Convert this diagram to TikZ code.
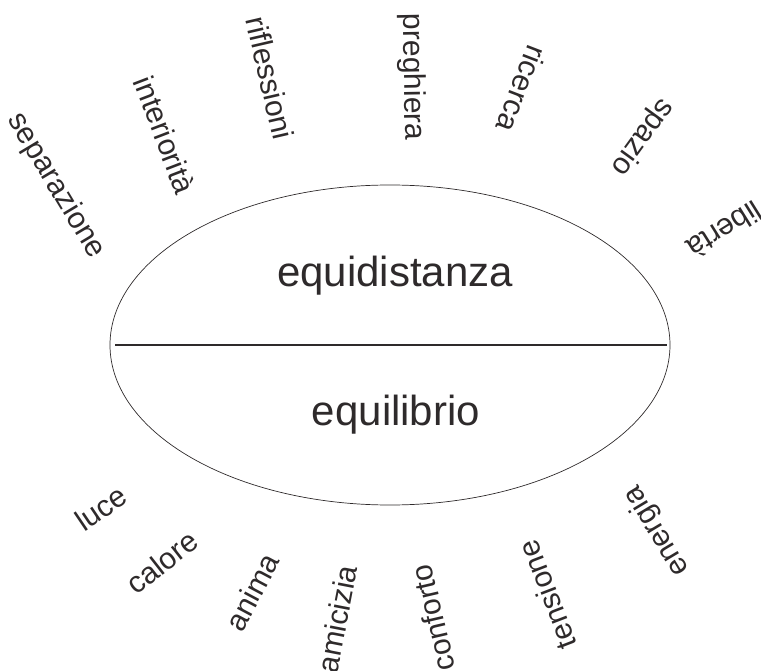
\documentclass[tikz,border=0pt]{standalone}
\usepackage{fontspec}
\setmainfont{Liberation Sans}
\newcommand*{\wordfont}{\fontsize{30pt}{30pt}\selectfont}
\newcommand*{\bigwordfont}{\fontsize{42pt}{42pt}\selectfont}
\definecolor{ink}{cmyk}{0.00,0.00,0.00,0.95}
\usepackage{tikz}
\tikzstyle{base}=[x=1pt, y=-1pt, inner sep=0pt, outer sep=0pt]
\tikzstyle{word}=[ink, font=\wordfont]
\tikzstyle{bigword}=[ink, font=\bigwordfont, anchor=base]

\begin{document}
\begin{tikzpicture}[base]
    \path [use as bounding box] (0,0) rectangle (761,671);
        \draw [ink, line width=0.7pt] (390,345) ellipse [x radius=280, y radius=160];
        \draw [ink, line width=1.1pt] (115,345) -- (667,345);
        \node [bigword] (equidistanza) at (395,287) {equidistanza};
        \node [bigword] (equilibrio) at (396,425) {equilibrio};
        % sopra
        \node [word, rotate=-59] (separazione) at (56,186) {separazione};
        \node [word, rotate=-69] (interiorita) at (165,135) {interiorità};
        \node [word, rotate=-77] (riflessioni) at (270,78) {riflessioni};
        \node [word, rotate=-89] (preghiera) at (412,77) {preghiera};
        \node [word, rotate=-111] (ricerca) at (522,89) {ricerca};
        \node [word, rotate=-126] (spazio) at (642,137) {spazio};
        \node [word, rotate=-148] (liberta) at (725,230) {libertà};
        % sotto
        \node [word, rotate=34] (luce) at (101,508) {luce};
        \node [word, rotate=38] (calore) at (162,562) {calore};
        \node [word, rotate=62] (anima) at (252,592) {anima};
        \node [word, rotate=79] (amicizia) at (337,619) {amicizia};
        \node [word, rotate=103] (conforto) at (433,618) {conforto};
        \node [word, rotate=111] (tensione) at (547,595) {tensione};
        \node [word, rotate=121] (energia) at (657,531) {energia};
    \end{tikzpicture}
\end{document}
